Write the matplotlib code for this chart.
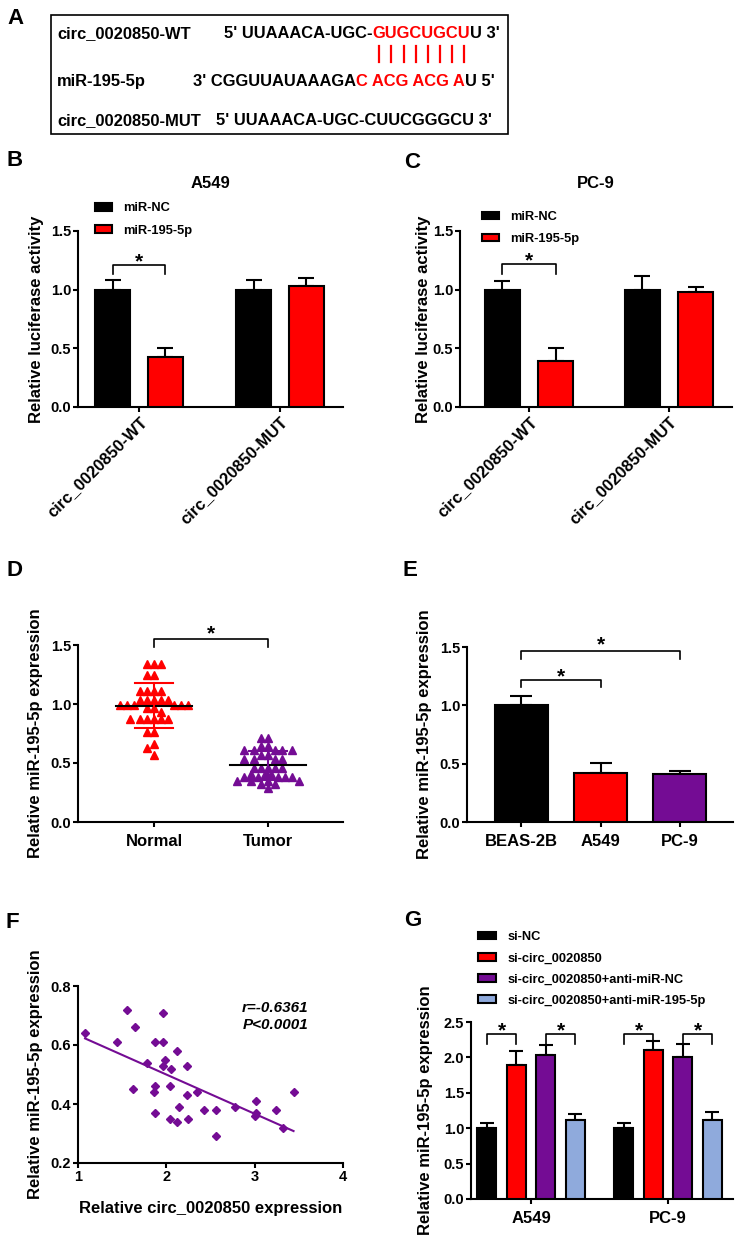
import numpy as np
import matplotlib
matplotlib.use("Agg")
import matplotlib.pyplot as plt
from matplotlib.patches import Rectangle
from matplotlib.lines import Line2D
from matplotlib.ticker import FormatStrFormatter, MultipleLocator

# ---------------- data ----------------
b_groups = ["circ_0020850-WT", "circ_0020850-MUT"]
b_series = ["miR-NC", "miR-195-5p"]
b_nc = [1.00, 1.00]
b_nc_err = [0.08, 0.08]
b_mir = [0.43, 1.03]
b_mir_err = [0.07, 0.07]

c_nc = [1.00, 1.00]
c_nc_err = [0.07, 0.12]
c_mir = [0.39, 0.98]
c_mir_err = [0.11, 0.04]

d_groups = ["Normal", "Tumor"]
d_normal = [1.34, 1.34, 1.34, 1.25, 1.25, 1.11, 1.11, 1.11, 1.11,
            1.03, 1.03, 1.03, 1.03, 1.03, 0.99, 0.99, 0.99, 0.99, 0.99, 0.99,
            0.97, 0.97, 0.93, 0.87, 0.87, 0.87, 0.87, 0.87, 0.87,
            0.76, 0.76, 0.66, 0.63, 0.57]
d_tumor = [0.71, 0.71, 0.64, 0.64, 0.61, 0.61, 0.61, 0.61, 0.61,
           0.57, 0.57, 0.53, 0.53, 0.53, 0.53, 0.46, 0.46, 0.46, 0.46, 0.46,
           0.41, 0.41, 0.41, 0.38, 0.38, 0.38, 0.38, 0.38,
           0.35, 0.35, 0.35, 0.35, 0.32, 0.32, 0.29]

e_cells = ["BEAS-2B", "A549", "PC-9"]
e_vals = [1.00, 0.42, 0.41]
e_err = [0.08, 0.09, 0.03]

f_x = [1.08, 1.44, 1.56, 1.65, 1.62, 1.78, 1.87, 1.87, 1.86, 1.87, 1.96, 1.96,
       1.99, 1.96, 2.05, 2.04, 2.04, 2.12, 2.14, 2.12, 2.23, 2.23, 2.25, 2.35,
       2.43, 2.56, 2.56, 2.78, 3.02, 3.00, 3.02, 3.24, 3.32, 3.44]
f_y = [0.64, 0.61, 0.72, 0.66, 0.45, 0.54, 0.61, 0.46, 0.44, 0.37, 0.71, 0.61,
       0.55, 0.53, 0.52, 0.46, 0.35, 0.58, 0.39, 0.34, 0.53, 0.43, 0.35, 0.44,
       0.38, 0.38, 0.29, 0.39, 0.41, 0.36, 0.37, 0.38, 0.32, 0.44]

g_groups = ["A549", "PC-9"]
g_series = ["si-NC", "si-circ_0020850", "si-circ_0020850+anti-miR-NC",
            "si-circ_0020850+anti-miR-195-5p"]
g_vals = [[1.00, 1.00], [1.89, 2.11], [2.03, 2.00], [1.12, 1.12]]
g_err = [[0.08, 0.08], [0.20, 0.12], [0.15, 0.19], [0.08, 0.11]]

# ---------------- style ----------------
RED = "#FF0000"
PURPLE = "#740C94"
BLUE = "#8FAADC"
plt.rcParams["font.family"] = ["Liberation Sans", "DejaVu Sans"]
plt.rcParams["font.weight"] = "bold"
plt.rcParams["axes.labelweight"] = "bold"
plt.rcParams["axes.linewidth"] = 1.5

W, H = 736, 1240
fig = plt.figure(figsize=(W / 100, H / 100), dpi=100)


def rect(l, t, r, b):
    return [l / W, 1 - b / H, (r - l) / W, (b - t) / H]


def style(ax):
    ax.spines["top"].set_visible(False)
    ax.spines["right"].set_visible(False)
    ax.tick_params(direction="out", length=3.5, width=1.5, labelsize=10.5,
                   pad=1.5)


def bracket(ax, x1, x2, y, h, dy=-2, size=15):
    ax.plot([x1, x1, x2, x2], [y - h, y, y, y - h], color="black", lw=1.2,
            clip_on=False)
    ax.annotate("*", xy=((x1 + x2) / 2, y), xytext=(0, dy),
                textcoords="offset points", ha="center", va="baseline",
                fontsize=size, annotation_clip=False)


def panel_letter(x, y, s):
    fig.text(x / W, 1 - y / H, s, ha="center", va="center", fontsize=16,
             fontweight="bold")


# ---------------- panel A ----------------
fig.add_artist(Rectangle((51 / W, 1 - 134 / H), (508 - 51) / W, (134 - 15) / H,
                         transform=fig.transFigure, fill=False, lw=1.2,
                         edgecolor="black"))
renderer = fig.canvas.get_renderer()
AS = 11.9


def ptext(x, y, s, color="black"):
    return fig.text(x / W, 1 - y / H, s, color=color, fontsize=AS,
                    fontweight="bold", ha="left", va="baseline")


def width_px(s):
    t = ptext(0, 0, s)
    w = t.get_window_extent(renderer=renderer).width
    t.remove()
    return w


def right_px(t):
    return t.get_window_extent(renderer=renderer).x1


ptext(57, 38, "circ_0020850-WT")
ptext(57, 86, "miR-195-5p")
ptext(57, 125, "circ_0020850-MUT")

t = ptext(224, 38, "5' UUAAACA-UGC-")
x0 = right_px(t)
seq = "GUGCUGCU"
tr = ptext(x0, 38, seq, RED)
centers = []
for i in range(len(seq)):
    a = width_px(seq[:i]) if i > 0 else 0
    b = width_px(seq[:i + 1])
    centers.append(x0 + (a + b) / 2)
ptext(right_px(tr), 38, "U 3'")
for cx in centers:
    fig.add_artist(Line2D([cx / W, cx / W], [1 - 46 / H, 1 - 62 / H],
                          color=RED, lw=1.6, transform=fig.transFigure))

t = ptext(193, 86, "3' CGGUUAUAAAGA")
t = ptext(right_px(t), 86, "C ACG ACG A", RED)
ptext(right_px(t), 86, "U 5'")
ptext(216, 125, "5' UUAAACA-UGC-CUUCGGGCU 3'")

panel_letter(15, 18, "A")
panel_letter(15, 161, "B")
panel_letter(412, 162, "C")
panel_letter(14, 571, "D")
panel_letter(410, 571, "E")
panel_letter(12, 923, "F")
panel_letter(413, 920, "G")


# ---------------- panels B, C ----------------
def luc_panel(r, nc, nc_err, mir, mir_err, xlim, title, off, w, leg_xy,
              ylab_x, br):
    ax = fig.add_axes(r)
    style(ax)
    x = np.arange(len(b_groups))
    ax.bar(x - off, nc, w, color="black", edgecolor="black", lw=1.5,
           label=b_series[0], zorder=3)
    ax.bar(x + off, mir, w, color=RED, edgecolor="black", lw=1.5,
           label=b_series[1], zorder=3)
    ax.errorbar(x - off, nc, yerr=[np.zeros(len(nc)), nc_err], fmt="none",
                ecolor="black", elinewidth=1.5, capsize=6, capthick=1.5,
                zorder=2)
    ax.errorbar(x + off, mir, yerr=[np.zeros(len(mir)), mir_err], fmt="none",
                ecolor="black", elinewidth=1.5, capsize=6, capthick=1.5,
                zorder=2)
    ax.set_ylim(0, 1.5)
    ax.set_xlim(*xlim)
    ax.yaxis.set_major_locator(MultipleLocator(0.5))
    ax.yaxis.set_major_formatter(FormatStrFormatter("%.1f"))
    ax.set_xticks(x)
    ax.set_xticklabels(b_groups, rotation=45, ha="right",
                       rotation_mode="anchor", fontsize=12)
    ax.set_ylabel("Relative luciferase activity", fontsize=12)
    ax.yaxis.set_label_coords(ylab_x, 0.5)
    ax.text(0.5, 1 + 48 / 176, title, transform=ax.transAxes, ha="center",
            va="center", fontsize=12, fontweight="bold")
    bracket(ax, -off, off, br[0], br[1])
    ax.legend(loc="center left", bbox_to_anchor=(leg_xy[0] / W, 1 - leg_xy[1] / H),
              bbox_transform=fig.transFigure, frameon=False, fontsize=9.3,
              handlelength=1.32, handleheight=0.55, handletextpad=0.85,
              labelspacing=0.78, borderpad=0, borderaxespad=0)
    return ax


luc_panel(rect(78, 231, 343, 407), b_nc, b_nc_err, b_mir, b_mir_err,
          (-0.433, 1.447), "A549", 0.187, 0.248, (95, 219.5), -0.13,
          (1.21, 0.08))
luc_panel(rect(460, 231, 732, 407), c_nc, c_nc_err, c_mir, c_mir_err,
          (-0.493, 1.45), "PC-9", 0.19, 0.25, (482, 228), -0.108,
          (1.22, 0.09))


# ---------------- panel D ----------------
def swarm(values, center, d_px, sx, sy, size_px):
    vals = np.asarray(values, float)
    xs = np.zeros(len(vals))
    placed = []
    cands = [0.0]
    for j in range(1, 30):
        cands += [-j * d_px, j * d_px]
    for i in np.argsort(-vals, kind="stable"):
        y = vals[i] * sy
        for c in cands:
            if all((c - px) ** 2 + (y - py) ** 2 >= size_px ** 2
                   for px, py in placed):
                break
        placed.append((c, y))
        xs[i] = center + c / sx
    return xs


axd = fig.add_axes(rect(78, 645, 343, 822))
style(axd)
for k, (vals, col) in enumerate([(d_normal, RED), (d_tumor, PURPLE)]):
    xs = swarm(vals, k, 3.4, 114, 118, 6.8)
    axd.plot(xs, vals, "^", color=col, ms=5.5, mec=col, zorder=3,
             clip_on=False)
    m = np.mean(vals)
    s = np.std(vals, ddof=1)
    axd.plot([k - 0.33, k + 0.33], [m, m], color="black", lw=1.5, zorder=4)
    axd.plot([k - 0.167, k + 0.167], [m + s, m + s], color=col, lw=1.5, zorder=4)
    axd.plot([k - 0.167, k + 0.167], [m - s, m - s], color=col, lw=1.5, zorder=4)
    axd.plot([k, k], [m - s, m + s], color=col, lw=1.5, zorder=4)
axd.set_xlim(-0.667, 1.658)
axd.set_ylim(0, 1.5)
axd.yaxis.set_major_locator(MultipleLocator(0.5))
axd.yaxis.set_major_formatter(FormatStrFormatter("%.1f"))
axd.set_xticks([0, 1])
axd.set_xticklabels(d_groups, fontsize=12)
axd.tick_params(axis="x", pad=5)
axd.set_ylabel("Relative miR-195-5p expression", fontsize=12)
axd.yaxis.set_label_coords(-0.132, 0.5)
bracket(axd, 0, 1, 1.55, 0.07, dy=0)

# ---------------- panel E ----------------
axe = fig.add_axes(rect(467, 647, 733, 822))
style(axe)
xe = np.arange(len(e_cells))
axe.bar(xe, e_vals, 0.667, color=["black", RED, PURPLE], edgecolor="black",
        lw=1.5, zorder=3)
axe.errorbar(xe, e_vals, yerr=[np.zeros(len(e_vals)), e_err], fmt="none",
             ecolor="black", elinewidth=1.5, capsize=8, capthick=1.5, zorder=2)
axe.set_xlim(-0.68, 2.667)
axe.set_ylim(0, 1.5)
axe.yaxis.set_major_locator(MultipleLocator(0.5))
axe.yaxis.set_major_formatter(FormatStrFormatter("%.1f"))
axe.set_xticks(xe)
axe.set_xticklabels(e_cells, fontsize=12)
axe.tick_params(axis="x", pad=5)
axe.set_ylabel("Relative miR-195-5p expression", fontsize=12)
axe.yaxis.set_label_coords(-0.132, 0.5)
bracket(axe, 0, 2, 1.47, 0.07, dy=0)
bracket(axe, 0, 1, 1.22, 0.06, dy=-2)

# ---------------- panel F ----------------
axf = fig.add_axes(rect(78, 986, 343, 1163))
style(axf)
axf.plot(f_x, f_y, "D", color=PURPLE, ms=4.5, zorder=3, clip_on=False)
coef = np.polyfit(f_x, f_y, 1)
lx = np.array([min(f_x), max(f_x)])
axf.plot(lx, np.polyval(coef, lx), color=PURPLE, lw=1.5, zorder=2)
axf.set_xlim(1, 4)
axf.set_ylim(0.2, 0.8)
axf.set_xticks([1, 2, 3, 4])
axf.yaxis.set_major_locator(MultipleLocator(0.2))
axf.yaxis.set_major_formatter(FormatStrFormatter("%.1f"))
axf.set_ylabel("Relative miR-195-5p expression", fontsize=12)
axf.yaxis.set_label_coords(-0.132, 0.5)
axf.set_xlabel("Relative circ_0020850 expression", fontsize=12)
axf.xaxis.set_label_coords(0.5, -0.215)
axf.text(308 / W, 1 - 1008 / H, "r=-0.6361", transform=fig.transFigure,
         ha="right", va="center", fontsize=11, fontstyle="italic",
         fontweight="bold")
axf.text(308 / W, 1 - 1025 / H, "P<0.0001", transform=fig.transFigure,
         ha="right", va="center", fontsize=11, fontstyle="italic",
         fontweight="bold")

# ---------------- panel G ----------------
axg = fig.add_axes(rect(471, 1022, 733, 1199))
style(axg)
xg = np.arange(len(g_groups))
g_cols = ["black", RED, PURPLE, BLUE]
g_off = 0.215
g_w = 0.139
for i in range(len(g_series)):
    pos = xg + (i - 1.5) * g_off
    axg.bar(pos, g_vals[i], g_w, color=g_cols[i], edgecolor="black", lw=1.5,
            label=g_series[i], zorder=3)
    axg.errorbar(pos, g_vals[i], yerr=[np.zeros(len(xg)), g_err[i]],
                 fmt="none", ecolor="black", elinewidth=1.5, capsize=4.8,
                 capthick=1.5, zorder=2)
axg.set_xlim(-0.438, 1.474)
axg.set_ylim(0, 2.5)
axg.yaxis.set_major_locator(MultipleLocator(0.5))
axg.yaxis.set_major_formatter(FormatStrFormatter("%.1f"))
axg.set_xticks(xg)
axg.set_xticklabels(g_groups, fontsize=12)
axg.tick_params(axis="x", pad=5)
axg.set_ylabel("Relative miR-195-5p expression", fontsize=12)
axg.yaxis.set_label_coords(-0.145, 0.5)
for gx in xg:
    bracket(axg, gx - 1.5 * g_off, gx - 0.5 * g_off, 2.33, 0.14, dy=-1.5)
    bracket(axg, gx + 0.5 * g_off, gx + 1.5 * g_off, 2.33, 0.14, dy=-1.5)
axg.legend(loc="center left", bbox_to_anchor=(478 / W, 1 - 969 / H),
           bbox_transform=fig.transFigure, frameon=False, fontsize=9.3,
           handlelength=1.4, handleheight=0.55, handletextpad=0.85,
           labelspacing=0.72, borderpad=0, borderaxespad=0)

fig.savefig("out.png", dpi=100)
